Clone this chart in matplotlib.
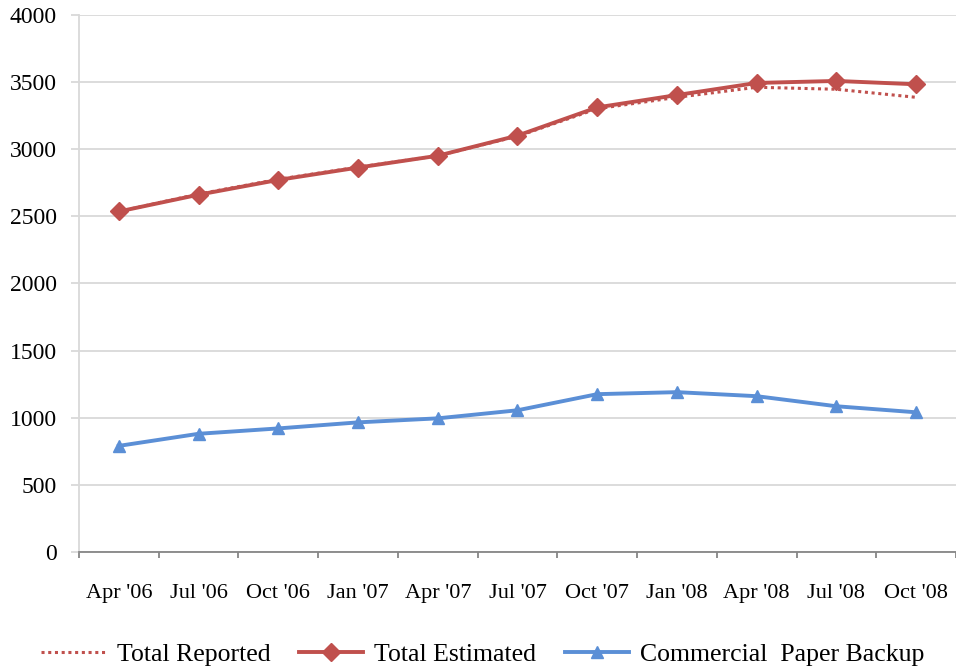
import matplotlib
matplotlib.use("Agg")
import matplotlib.pyplot as plt
import numpy as np

quarters = ["Apr '06", "Jul '06", "Oct '06", "Jan '07", "Apr '07", "Jul '07",
            "Oct '07", "Jan '08", "Apr '08", "Jul '08", "Oct '08"]
total_reported = [2535, 2665, 2775, 2865, 2950, 3095, 3300, 3385, 3460, 3445, 3385]
total_estimated = [2535, 2660, 2770, 2862, 2950, 3100, 3310, 3402, 3492, 3507, 3482]
cp_backup = [790, 880, 920, 965, 995, 1055, 1175, 1190, 1160, 1085, 1040]
y_ticks = [0, 500, 1000, 1500, 2000, 2500, 3000, 3500, 4000]

red = "#C0504D"
blue = "#5B8FD6"
grid_grey = "#D9D9D9"

plt.rcParams["font.family"] = ["Liberation Serif", "DejaVu Serif"]

fig = plt.figure(figsize=(9.56, 6.69), dpi=100)
ax = fig.add_axes([0.0826, 0.1749, 0.9174, 0.8031])

x = np.arange(len(quarters))
ax.plot(x, total_reported, color=red, lw=2.2, ls=(0, (1, 1.2)),
        label="Total Reported", zorder=3)
ax.plot(x, total_estimated, color=red, lw=2.8, marker="D", markersize=9.5,
        label="Total Estimated", zorder=4)
ax.plot(x, cp_backup, color=blue, lw=2.8, marker="^", markersize=9,
        label="Commercial  Paper Backup", zorder=4)

ax.set_xlim(-0.5, len(quarters) - 0.5)
ax.set_ylim(0, 4000)
ax.set_yticks(y_ticks)
ax.set_yticklabels([str(v) for v in y_ticks], fontsize=17)
ax.yaxis.grid(True, color=grid_grey, lw=1.3)
ax.set_axisbelow(True)

ax.set_xticks(x)
ax.set_xticklabels(quarters, fontsize=16)
ax.set_xticks(np.arange(-0.5, len(quarters), 1.0), minor=True)
ax.tick_params(axis="x", which="major", length=0, pad=23)
ax.tick_params(axis="x", which="minor", length=4, width=1.3, color="#868686")
ax.tick_params(axis="y", length=6, width=1.3, color=grid_grey, pad=10)

for side in ("top", "right"):
    ax.spines[side].set_visible(False)
ax.spines["left"].set_color(grid_grey)
ax.spines["left"].set_linewidth(1.3)
ax.spines["bottom"].set_color("#868686")
ax.spines["bottom"].set_linewidth(1.3)

fig.legend(loc="center", bbox_to_anchor=(0.505, 0.022), ncol=3, frameon=False,
           fontsize=18.5, handlelength=2.5, columnspacing=1.1, handletextpad=0.45)

fig.savefig("out.png", dpi=100, facecolor="white")
